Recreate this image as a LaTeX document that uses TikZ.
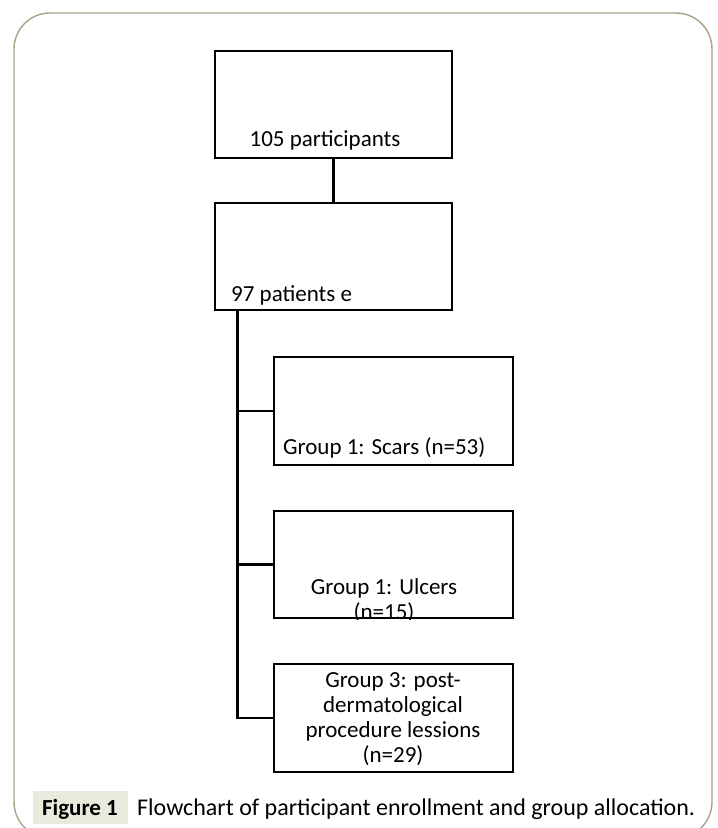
\documentclass[tikz,border=0pt]{standalone}
\usepackage{fontspec}
\setmainfont{Carlito}
\definecolor{framec}{HTML}{A8A288}
\definecolor{capbg}{HTML}{EAEADC}
\begin{document}
\begin{tikzpicture}[x=1pt,y=-1pt,
  box/.style={draw, line width=2.6pt, rectangle, inner sep=0pt},
  conn/.style={line width=2.6pt},
  txt/.style={inner sep=0pt, font=\fontsize{23}{25}\selectfont, align=center}]
\useasboundingbox (0,0) rectangle (718,828);
\begin{scope}
  \clip (0,0) rectangle (718,828);
  \draw[framec, line width=1.4pt, rounded corners=36pt] (14,13) rectangle (712,838);
\end{scope}
% boxes
\node[box, minimum width=237pt, minimum height=107pt] (b1) at (333.5,104.5) {};
\node[box, minimum width=237pt, minimum height=107pt] (b2) at (333.5,256.5) {};
\node[box, minimum width=239pt, minimum height=108pt] (b3) at (393.5,411) {};
\node[box, minimum width=239pt, minimum height=107pt] (b4) at (393.5,564.5) {};
\node[box, minimum width=239pt, minimum height=108pt] (b5) at (393.5,718) {};
% texts
\node[txt] (t1) at (325,140) {105 participants};
\node[txt, anchor=west] (t2) at (231,295) {97 patients e};
\node[txt, anchor=west] (t3) at (283,448) {Group 1: Scars (n=53)};
\begin{scope}
  \clip (b4.north west) rectangle (b4.south east);
  \node[txt] (t4) at (384,600.5) {Group 1: Ulcers\\(n=15)};
\end{scope}
\node[txt] (t5) at (393,719.5) {Group 3: post-\\dermatological\\procedure lessions\\(n=29)};
% connectors
\draw[conn] (b1.south) -- (b2.north);
\coordinate (tr) at ([xshift=23.5pt]b2.south west);
\draw[conn] (tr) |- (b5.west);
\draw[conn] (tr |- b3.west) -- (b3.west);
\draw[conn] (tr |- b4.west) -- (b4.west);
% caption
\node[fill=capbg, minimum width=95pt, minimum height=33pt, inner sep=0pt] (cb) at (80.5,807.5) {};
\node[inner sep=0pt, font=\fontsize{23}{25}\selectfont\bfseries] (cf) at (80,809) {Figure 1};
\node[inner sep=0pt, anchor=west, font=\fontsize{24}{25}\selectfont] (ct) at (137,809) {Flowchart of participant enrollment and group allocation.};
\end{tikzpicture}
\end{document}
